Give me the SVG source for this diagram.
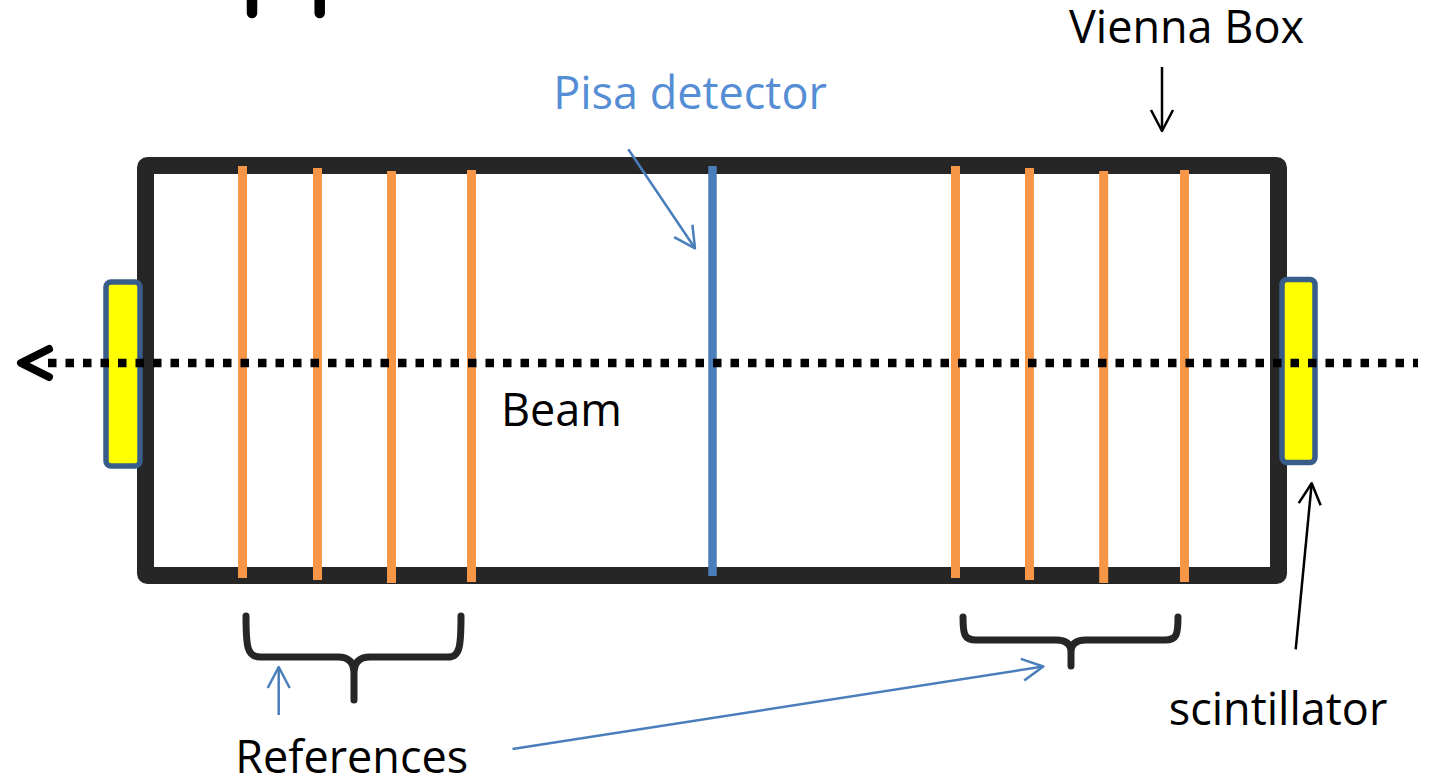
<svg xmlns="http://www.w3.org/2000/svg" width="1429" height="782" viewBox="0 0 1429 782">
<style>
text{font-family:"Open Sans","Noto Sans","Liberation Sans",sans-serif;font-size:45px;text-anchor:middle}
.lbl{fill:#000}
.blue{fill:#558ED5}
.ref{stroke:#F79646;stroke-width:9}
.brace{fill:none;stroke:#262626;stroke-width:7;stroke-linecap:round;stroke-linejoin:round}
.scint{fill:#FFFF00;stroke:#385D8A;stroke-width:5.5}
.thinb{fill:none;stroke:#000;stroke-width:2.5}
.thinbl{fill:none;stroke:#4A7EBB;stroke-width:2.5}
</style>
<defs>
<marker id="ab" viewBox="-26 -15 30 30" refX="0" refY="0" markerWidth="30" markerHeight="30" markerUnits="userSpaceOnUse" orient="auto">
<path d="M-21,-11 L0,0 L-21,11" fill="none" stroke="#000" stroke-width="2.5" stroke-linejoin="round"/>
</marker>
<marker id="abl" viewBox="-26 -15 30 30" refX="0" refY="0" markerWidth="30" markerHeight="30" markerUnits="userSpaceOnUse" orient="auto">
<path d="M-21,-11 L0,0 L-21,11" fill="none" stroke="#4A7EBB" stroke-width="2.5" stroke-linejoin="round"/>
</marker>
</defs>
<rect width="1429" height="782" fill="#fff"/>
<g id="topmarks" stroke="#000" stroke-width="10.5" stroke-linecap="round">
<line x1="252" y1="-10" x2="252" y2="13"/>
<line x1="319.7" y1="-10" x2="319.7" y2="13"/>
</g>
<g id="vienna-box">
<rect x="145.5" y="165.5" width="1133" height="410" rx="2" fill="none" stroke="#262626" stroke-width="17"/>
</g>
<g id="references-left">
<line class="ref" x1="242.5" y1="166" x2="242.5" y2="578"/>
<line class="ref" x1="317.5" y1="168" x2="317.5" y2="580"/>
<line class="ref" x1="391.5" y1="171" x2="391.5" y2="583"/>
<line class="ref" x1="471.5" y1="170" x2="471.5" y2="582"/>
</g>
<g id="references-right">
<line class="ref" x1="955.5" y1="166" x2="955.5" y2="578"/>
<line class="ref" x1="1029.5" y1="168" x2="1029.5" y2="580"/>
<line class="ref" x1="1103.7" y1="171" x2="1103.7" y2="583"/>
<line class="ref" x1="1184.5" y1="170" x2="1184.5" y2="582"/>
</g>
<g id="pisa-detector">
<line x1="712.5" y1="166" x2="712.5" y2="576" stroke="#4A7EBB" stroke-width="8.5"/>
</g>
<g id="scintillator-left">
<rect class="scint" x="106" y="282" width="34" height="184" rx="5"/>
</g>
<g id="scintillator-right">
<rect class="scint" x="1282" y="279.5" width="33" height="183" rx="5"/>
</g>
<g id="beam">
<line x1="48" y1="363" x2="1418" y2="363" stroke="#000" stroke-width="8.5" stroke-dasharray="8.5 9"/>
<polyline points="49,349 21,363 49,377" fill="none" stroke="#000" stroke-width="8" stroke-linecap="round" stroke-linejoin="round"/>
</g>
<g id="braces">
<path class="brace" d="M246,616 C246,646 247,657 260,657 L338,657 C350,657 354,664 354,674 L354,700 M354,674 C354,664 358,657 370,657 L448,657 C460,657 461,646 461,616"/>
<path class="brace" d="M963,617 C963,634 964,640 976,640 L1056,640 C1067,640 1071,645 1071,652 L1071,666 M1071,652 C1071,645 1075,640 1086,640 L1165,640 C1177,640 1178,634 1178,617"/>
</g>
<g id="connectors">
<line class="thinb" x1="1162" y1="67" x2="1162" y2="131" marker-end="url(#ab)"/>
<line class="thinbl" x1="628.3" y1="149.3" x2="695" y2="248.3" marker-end="url(#abl)"/>
<line class="thinbl" x1="278.7" y1="715" x2="278.7" y2="667" marker-end="url(#abl)"/>
<line class="thinbl" x1="512.5" y1="749" x2="1043.3" y2="666.5" marker-end="url(#abl)"/>
<line class="thinb" x1="1295.7" y1="649.3" x2="1311.7" y2="483.3" marker-end="url(#ab)"/>
</g>
<g id="labels">
<text class="lbl" x="1186.5" y="42.7">Vienna Box</text>
<text class="blue" x="690" y="109">Pisa detector</text>
<text class="lbl" x="561.5" y="426">Beam</text>
<text class="lbl" x="351.7" y="773">References</text>
<text class="lbl" x="1278" y="725">scintillator</text>
</g>
</svg>
